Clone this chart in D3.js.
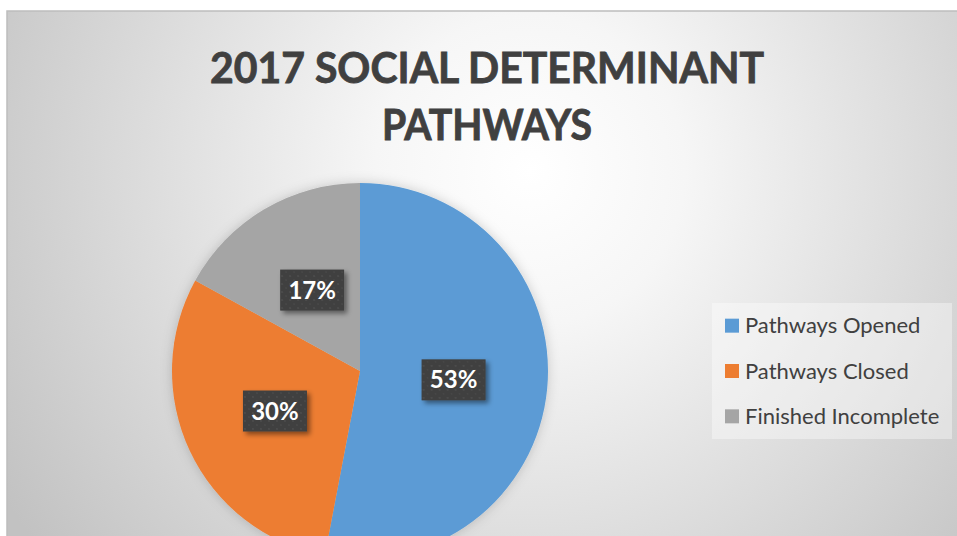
<!DOCTYPE html>
<html>
<head>
<meta charset="utf-8">
<script src="https://cdn.jsdelivr.net/npm/d3@7"></script>
<style>
  html, body { margin: 0; padding: 0; background: #fff; overflow: hidden; }
  svg { display: block; }
</style>
</head>
<body>
<div id="chart"></div>
<script>
// chart data
const categories = ['Pathways Opened', 'Pathways Closed', 'Finished Incomplete']
const values = [53, 30, 17]
const titleLines = ['2017 SOCIAL DETERMINANT', 'PATHWAYS']

const colors = ['#5b9bd5', '#ed7d31', '#a5a5a5']
const W = 957, H = 536
const frame = { x: 7, y: 11 }
const pieCfg = { cx: 360, cy: 371, r: 188 }

const svg = d3.select('#chart').append('svg')
  .attr('width', W).attr('height', H)

const defs = svg.append('defs')

const bg = defs.append('radialGradient')
  .attr('id', 'bg').attr('gradientUnits', 'userSpaceOnUse')
  .attr('cx', 530).attr('cy', 170).attr('r', 620)
bg.append('stop').attr('offset', '0').attr('stop-color', '#ffffff')
bg.append('stop').attr('offset', '0.25').attr('stop-color', '#f6f6f6')
bg.append('stop').attr('offset', '1').attr('stop-color', '#c2c2c2')

const pieShadow = defs.append('filter').attr('id', 'pieShadow')
  .attr('x', '-20%').attr('y', '-20%').attr('width', '140%').attr('height', '140%')
pieShadow.append('feDropShadow')
  .attr('dx', 0).attr('dy', 0).attr('stdDeviation', 6)
  .attr('flood-color', '#000').attr('flood-opacity', 0.18)

const boxShadow = defs.append('filter').attr('id', 'boxShadow')
  .attr('x', '-30%').attr('y', '-30%').attr('width', '160%').attr('height', '160%')
boxShadow.append('feDropShadow')
  .attr('dx', 3).attr('dy', 3).attr('stdDeviation', 2.5)
  .attr('flood-color', '#000').attr('flood-opacity', 0.45)

const dots = defs.append('pattern').attr('id', 'dots')
  .attr('patternUnits', 'userSpaceOnUse').attr('width', 8).attr('height', 8)
dots.append('rect').attr('width', 8).attr('height', 8).attr('fill', '#3f3f3f')
dots.append('circle').attr('cx', 2).attr('cy', 2).attr('r', 1.1).attr('fill', '#4d4d4d')
dots.append('circle').attr('cx', 6).attr('cy', 6).attr('r', 1.1).attr('fill', '#474747')

// chart area
svg.append('rect')
  .attr('x', frame.x).attr('y', frame.y)
  .attr('width', W - frame.x + 2).attr('height', H - frame.y + 2)
  .attr('fill', 'url(#bg)')
  .attr('stroke', '#bdbdbd').attr('stroke-width', 1.5)

// title
const title = svg.append('g').attr('class', 'title')
  .attr('font-family', 'Lato, "Open Sans", sans-serif')
  .attr('font-weight', 'bold').attr('font-size', 42)
  .attr('fill', '#404040').attr('text-anchor', 'middle')
  .attr('stroke', '#404040').attr('stroke-width', 0.8)
const titleWidths = [554, 210]
title.selectAll('text').data(titleLines).enter().append('text')
  .attr('x', 487)
  .attr('y', (d, i) => 83 + i * 57)
  .text(d => d)
  .each(function(d, i) {
    const w = this.getComputedTextLength()
    if (Math.abs(w - titleWidths[i]) > 3) {
      d3.select(this).attr('textLength', titleWidths[i]).attr('lengthAdjust', 'spacingAndGlyphs')
    }
  })

// pie
const pie = d3.pie().sort(null).value(d => d.value)
const arc = d3.arc().innerRadius(0).outerRadius(pieCfg.r)
const data = categories.map((c, i) => ({ label: c, value: values[i] }))

const g = svg.append('g')
  .attr('transform', `translate(${pieCfg.cx},${pieCfg.cy})`)

g.append('g').attr('filter', 'url(#pieShadow)')
  .selectAll('path').data(pie(data)).enter().append('path')
  .attr('d', arc)
  .attr('fill', (d, i) => colors[i])

const total = d3.sum(values)
const labels = g.selectAll('.lbl').data(pie(data)).enter().append('g')
  .attr('class', 'lbl')
  .attr('transform', d => `translate(${arc.centroid(d)})`)

labels.append('rect')
  .attr('x', -32).attr('y', -20.5).attr('width', 64).attr('height', 41)
  .attr('fill', 'url(#dots)')
  .attr('filter', 'url(#boxShadow)')

labels.append('text')
  .attr('text-anchor', 'middle').attr('dy', '0.36em')
  .attr('font-family', 'Lato, "Open Sans", sans-serif')
  .attr('font-weight', 'bold').attr('font-size', 24)
  .attr('fill', '#fff')
  .text(d => Math.round(d.data.value / total * 100) + '%')

// legend
const legY = d3.scaleBand().domain(categories).range([303, 439])
const legend = svg.append('g').attr('class', 'legend')
legend.append('rect')
  .attr('x', 712).attr('y', 303).attr('width', 240).attr('height', 136)
  .attr('fill', '#ffffff').attr('fill-opacity', 0.38)

const items = legend.selectAll('.item').data(categories).enter().append('g')
  .attr('class', 'item')
  .attr('transform', d => `translate(725,${legY(d) + legY.bandwidth() / 2})`)
items.append('rect')
  .attr('x', 0).attr('y', -7).attr('width', 14).attr('height', 14)
  .attr('fill', (d, i) => colors[i])
items.append('text')
  .attr('x', 20).attr('dy', '0.35em')
  .attr('font-family', 'Lato, "Open Sans", sans-serif')
  .attr('font-size', 22).attr('fill', '#404040')
  .text(d => d)
</script>
</body>
</html>
